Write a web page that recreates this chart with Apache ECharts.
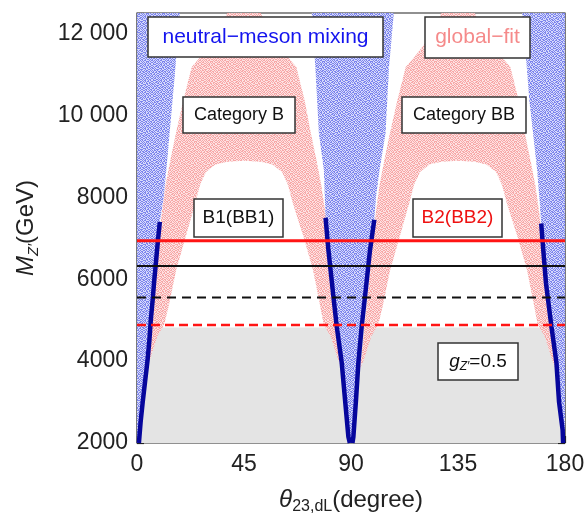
<!DOCTYPE html>
<html>
<head>
<meta charset="utf-8">
<script src="https://cdn.jsdelivr.net/npm/echarts@6/dist/echarts.min.js"></script>
<style>
html, body { margin: 0; padding: 0; background: #fff; }
#myChart { width: 586px; height: 513px; }
</style>
</head>
<body>
<div id="myChart"></div>
<script>
var FONT = '"Liberation Sans", Arial, Helvetica, sans-serif';

// axis ticks
var xTicks = [0, 45, 90, 135, 180];
var yTicks = [2000, 4000, 6000, 8000, 10000, 12000];
var yTickText = ['2000', '4000', '6000', '8000', '10 000', '12 000'];

// neutral-meson mixing, light region near 0 [theta, M]
var blueLeft = [
    [0, 2000], [0.8, 2000], [1.5, 2500], [2.4, 3000], [3.4, 3500], [4.4, 4000], [5.2, 4500],
    [5.8, 5000], [6.6, 5500], [7.3, 6000], [8.1, 6500], [8.9, 7000], [9.6, 7400],
    [11.2, 8000], [12.4, 8700], [13.6, 9500], [15, 10400], [16.2, 11200], [17.2, 12000],
    [18, 12500], [0, 12500]
];
// near 90
var blueMid = [
    [89.5, 2000], [88.9, 2150], [87.5, 3050], [86.1, 3960], [84, 4845], [82.6, 5575],
    [80.5, 6710], [79.3, 7500], [78.6, 8660], [76.5, 9560], [75, 11180], [73.5, 12500],
    [108, 12500], [106, 11180], [104.5, 9560], [102, 8660], [100.5, 8000], [99.8, 7450],
    [98, 6710], [95.9, 5575], [94.5, 4845], [93.1, 3960], [92.1, 3050], [91, 2150], [90.6, 2000]
];
// near 180
var blueRight = [
    [180, 2000], [179.2, 2000], [179, 2320], [177.5, 3000], [176.4, 3960], [174.3, 4840],
    [172, 5900], [170.6, 6900], [170, 7360], [169.3, 7930], [168.3, 8660], [166.5, 9600],
    [165, 10370], [163.5, 11500], [162, 12500], [180, 12500]
];

// dark blue edges of the mixing region
var darkLine0 = [[0.8, 2000], [1.5, 2500], [2.4, 3000], [3.4, 3500], [4.4, 4000], [5.2, 4500],
    [5.8, 5000], [6.6, 5500], [7.3, 6000], [8.1, 6500], [8.9, 7000], [9.6, 7400]];
var darkLine90L = [[89.5, 2000], [88.9, 2150], [87.5, 3050], [86.1, 3960], [84, 4845],
    [82.6, 5575], [80.5, 6710], [79.3, 7500]];
var darkLine90R = [[90.6, 2000], [91, 2150], [92.1, 3050], [93.1, 3960], [94.5, 4845],
    [95.9, 5575], [98, 6710], [99.8, 7450]];
var darkLine180 = [[179.2, 2000], [179, 2320], [177.5, 3000], [176.4, 3960], [174.3, 4840],
    [172, 5900], [170.6, 6900], [170, 7360]];

// global-fit, category B (0..90)
var pinkB = [
    [3.8, 3800], [4.6, 4200], [5.6, 4800], [6.8, 5500], [8, 6200], [9.3, 7000], [10.6, 7700],
    [12, 8300], [14, 8900], [16.5, 9600], [19.5, 10370], [23, 11180], [27, 11450], [31, 11750],
    [35, 12150], [38, 12500],
    [52, 12500], [55, 12150], [59, 11750], [63, 11450], [67, 11180], [70.5, 10370], [73, 9600],
    [75.5, 8900], [77.5, 8300], [79, 7700], [80.5, 7000], [82, 6200], [83.3, 5500], [84.4, 4800],
    [85.4, 4200], [86.2, 3800],
    [84.2, 4100], [81.5, 4600], [78.5, 4900], [76.8, 5410], [74, 6230], [70, 7040], [65.5, 7860],
    [63.5, 8300], [61, 8620], [57, 8800], [52, 8870], [45, 8890],
    [38, 8870], [33, 8800], [29, 8620], [26.5, 8300], [24.5, 7860], [20.5, 7040], [16.5, 6230], [13.6, 5410],
    [11.5, 4900], [8.5, 4600], [5.8, 4100]
];
// global-fit, category BB (90..180)
var pinkBB = [
    [93.8, 3800], [94.6, 4200], [95.6, 4800], [96.8, 5500], [98, 6200], [99.3, 7000], [100.6, 7700],
    [102, 8300], [104, 8900], [106.5, 9600], [109.5, 10370], [113, 11180], [117, 11450], [121, 11750],
    [125, 12150], [128, 12500],
    [142, 12500], [145, 12150], [149, 11750], [153, 11450], [157, 11180], [160.5, 10370], [163, 9600],
    [165.5, 8900], [167.5, 8300], [169, 7700], [170.5, 7000], [171.8, 6200], [173, 5500], [174.2, 4800],
    [175.3, 4200], [176, 3800],
    [174.2, 4100], [171.5, 4600], [168.5, 4900], [166.8, 5410], [164, 6230], [160, 7040], [155.5, 7860],
    [153.5, 8300], [151, 8620], [147, 8800], [142, 8870], [135, 8890],
    [128, 8870], [123, 8800], [119, 8620], [116.5, 8300], [114.5, 7860], [110.5, 7040], [106.5, 6230], [103.6, 5410],
    [101.5, 4900], [98.5, 4600], [95.8, 4100]
];

// excluded region (g_Z' = 0.5)
var grayArea = [[0, 2000], [180, 2000], [180, 4820], [0, 4820]];

// horizontal limits: B2 solid, B1 solid, B1 dashed, B2 dashed
var hLineValues = [6940, 6325, 5550, 4880];
var hLineColors = ['#ff1414', '#111111', '#111111', '#ff1414'];
var hLineTypes = ['solid', 'solid', [9, 6], [9, 5]];
var hLineWidths = [3, 2, 2, 2.5];

// speckle texture (fixed pattern, only for the look of the point clouds)
var speckleMask = [
    '1100101001110010', '0101100110001101', '1010011001011010', '0011010110100110',
    '1101001011010001', '0100110100101110', '1011001010110100', '0110110101001011',
    '1001010011011001', '0110101100100110', '1010010101101001', '0101101010010110',
    '1100010110101010', '0011101001010101', '1010100110110010', '0101011001001101'
];
function makeTile(base, dot) {
    var c = document.createElement('canvas');
    c.width = 16; c.height = 16;
    var ctx = c.getContext('2d');
    ctx.fillStyle = base;
    ctx.fillRect(0, 0, 16, 16);
    ctx.fillStyle = dot;
    for (var r = 0; r < 16; r++) {
        for (var k = 0; k < 16; k++) {
            if (speckleMask[r][k] === '1') ctx.fillRect(k, r, 1, 1);
        }
    }
    return { image: c, repeat: 'repeat' };
}

var polySeries = function(points, fill, z) {
    return {
        type: 'custom',
        coordinateSystem: 'cartesian2d',
        data: points,
        encode: { x: 0, y: 1 },
        clip: true,
        silent: true,
        z: z,
        renderItem: function(params, api) {
            if (params.dataIndex !== 0) return;
            var pts = points.map(function(p) { return api.coord(p); });
            return { type: 'polygon', shape: { points: pts }, style: { fill: fill } };
        }
    };
};

var lineSeries = function(points, color, width, type, z) {
    return {
        type: 'line',
        data: points,
        symbol: 'none',
        silent: true,
        animation: false,
        lineStyle: { color: color, width: width, type: type },
        z: z
    };
};

var blueFill = makeTile('rgba(210,214,250,0.9)', '#7c84ee');
var pinkFill = makeTile('rgba(253,222,222,0.88)', '#f7a8a8');

var series = [
    polySeries(grayArea, '#e4e4e4', 1),
    polySeries(pinkB, pinkFill, 2),
    polySeries(pinkBB, pinkFill, 2),
    polySeries(blueLeft, blueFill, 3),
    polySeries(blueMid, blueFill, 3),
    polySeries(blueRight, blueFill, 3),
    lineSeries(darkLine0, '#06069c', 4.5, 'solid', 4),
    lineSeries(darkLine90L, '#06069c', 4.5, 'solid', 4),
    lineSeries(darkLine90R, '#06069c', 4.5, 'solid', 4),
    lineSeries(darkLine180, '#06069c', 4.5, 'solid', 4)
];
hLineValues.forEach(function(v, i) {
    series.push(lineSeries([[0, v], [180, v]], hLineColors[i], hLineWidths[i], hLineTypes[i], 5));
});

function box(x1, x2, y1, y2, text, color, size, rich) {
    return {
        type: 'group',
        z: 100,
        children: [{
            type: 'rect',
            z: 100,
            shape: { x: x1, y: y1, width: x2 - x1, height: y2 - y1 },
            style: { fill: '#fff', stroke: '#333', lineWidth: 1.5 }
        }, {
            type: 'text',
            z: 101,
            x: (x1 + x2) / 2,
            y: (y1 + y2) / 2,
            style: {
                text: text, fill: color, font: size + 'px ' + FONT,
                align: 'center', verticalAlign: 'middle', rich: rich
            }
        }]
    };
}

var gRich = {
    i: { fontStyle: 'italic', fontSize: 19, fontFamily: FONT, fill: '#111' },
    s: { fontStyle: 'italic', fontSize: 12, fontFamily: FONT, fill: '#111', padding: [11, 0, 0, 0] },
    n: { fontSize: 19, fontFamily: FONT, fill: '#111' }
};

var myChart = echarts.init(document.getElementById('myChart'), null, { renderer: 'canvas' });

var option = {
    animation: false,
    grid: { left: 137, right: 21, top: 13, bottom: 70, show: true, borderColor: '#222', borderWidth: 1.2, containLabel: false, outerBoundsMode: 'none' },
    xAxis: {
        type: 'value', min: 0, max: 180, interval: 45,
        axisLine: { show: false },
        splitLine: { show: false },
        axisTick: { inside: true, length: 7, lineStyle: { color: '#222', width: 1.2 } },
        minorTick: { show: true, splitNumber: 4, length: 7, lineStyle: { color: '#222', width: 1.2 } },
        axisLabel: {
            margin: 10, color: '#222', fontSize: 23, fontFamily: FONT,
            formatter: function(v) { return xTicks.indexOf(v) >= 0 ? String(v) : ''; }
        },
        name: '{i|θ}{s|23,dL}{n|(degree)}',
        nameLocation: 'middle',
        nameGap: 42,
        nameTextStyle: {
            rich: {
                i: { fontStyle: 'italic', fontSize: 24, fontFamily: FONT, color: '#222' },
                s: { fontSize: 16, fontFamily: FONT, color: '#222', padding: [14, 0, 0, 0] },
                n: { fontSize: 24, fontFamily: FONT, color: '#222' }
            }
        }
    },
    yAxis: [{
        type: 'value', min: 2000, max: 12500, interval: 2000,
        axisLine: { show: false },
        splitLine: { show: false },
        axisTick: { inside: true, length: 7, lineStyle: { color: '#222', width: 1.2 } },
        minorTick: { show: true, splitNumber: 4, length: 4, lineStyle: { color: '#222', width: 1.2 } },
        axisLabel: {
            margin: 9, color: '#222', fontSize: 23, fontFamily: FONT,
            formatter: function(v) {
                var k = yTicks.indexOf(v);
                return k >= 0 ? yTickText[k] : '';
            }
        },
        name: '{i|M}{s|Z′}{n|(GeV)}',
        nameLocation: 'middle',
        nameGap: 96,
        nameRotate: 90,
        nameTextStyle: {
            rich: {
                i: { fontStyle: 'italic', fontSize: 24, fontFamily: FONT, color: '#222' },
                s: { fontStyle: 'italic', fontSize: 15, fontFamily: FONT, color: '#222', padding: [14, 0, 0, 0] },
                n: { fontSize: 24, fontFamily: FONT, color: '#222' }
            }
        }
    }, {
        type: 'value', min: 2000, max: 12500, interval: 2000, position: 'right',
        axisLine: { show: false },
        splitLine: { show: false },
        axisTick: { inside: true, length: 7, lineStyle: { color: '#222', width: 1.2 } },
        minorTick: { show: true, splitNumber: 4, length: 4, lineStyle: { color: '#222', width: 1.2 } },
        axisLabel: { show: false }
    }],
    series: series,
    graphic: [
        box(148, 383, 17, 57, 'neutral\u2212meson mixing', '#1414ee', 21),
        box(425, 530, 17, 58, 'global\u2212fit', '#f58a8a', 21),
        box(183, 295, 97, 133, 'Category B', '#111', 18),
        box(402, 526, 97, 133, 'Category BB', '#111', 18),
        box(194, 283, 199, 237, 'B1(BB1)', '#111', 19),
        box(413, 502, 199, 237, 'B2(BB2)', '#ee1111', 19),
        box(438, 518, 343, 380, '{i|g}{s|Z′}{n|=0.5}', '#111', 19, gRich)
    ]
};

myChart.setOption(option);
</script>
</body>
</html>
